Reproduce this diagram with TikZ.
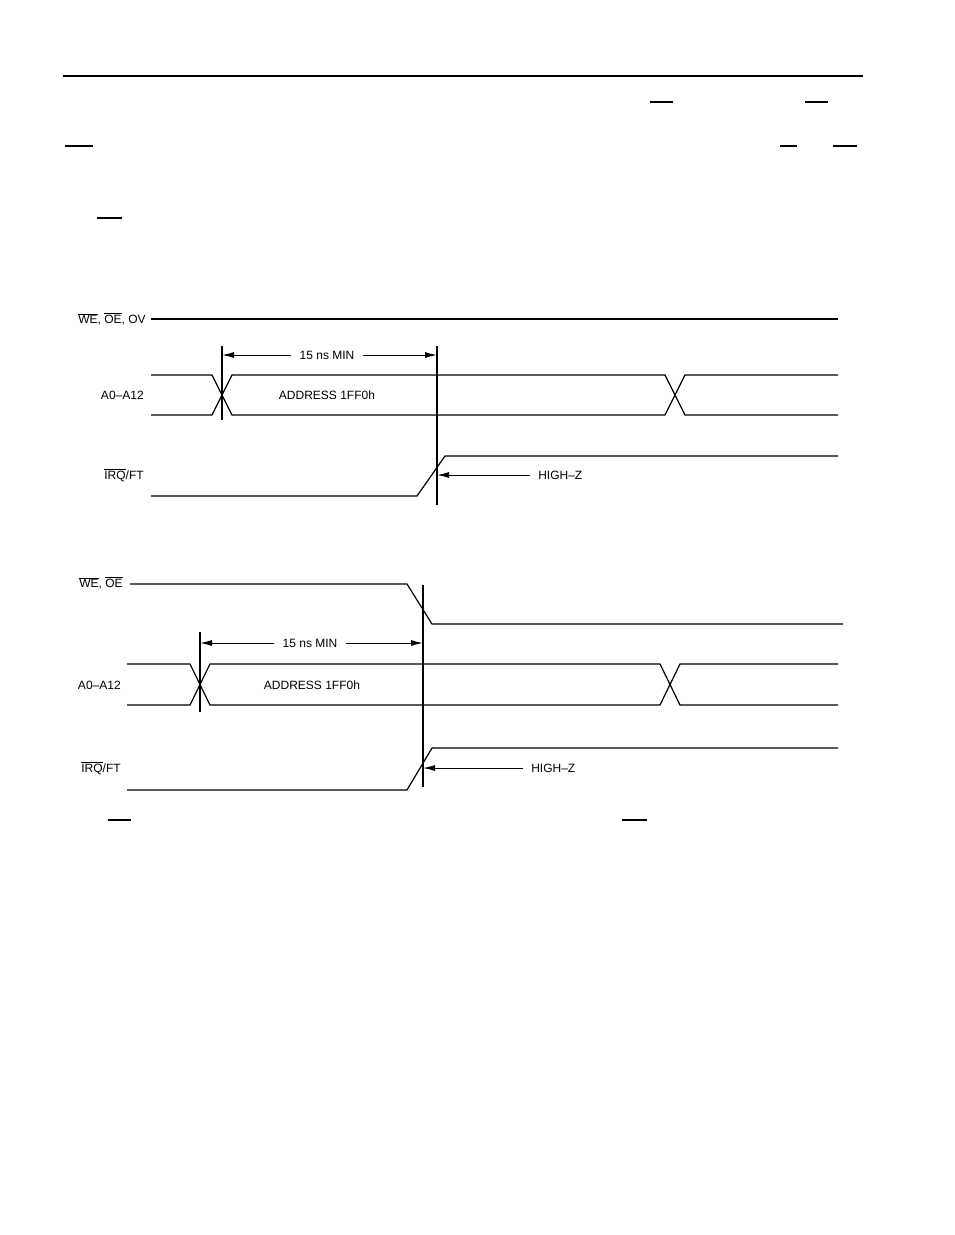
\documentclass[tikz,border=0pt]{standalone}
\usepackage{fontspec}
\setmainfont{Liberation Sans}
\usetikzlibrary{arrows.meta}
\usetikzlibrary{positioning}

\begin{document}
\begin{tikzpicture}[x=1pt,y=-1pt,semithick,
	font=\fontsize{12}{14}\selectfont,
	every node/.style={inner sep=1pt}]
	\tikzstyle{sig}=[line width=1.2pt]
	\tikzstyle{dim}=[-{Latex[length=12pt,width=6pt]},line width=1pt]
	\tikzstyle{lbl}=[anchor=east]
	\tikzstyle{gap}=[inner sep=8pt]

	\useasboundingbox (0,0) rectangle (954,1235);

	% page rule and left-over bars
	\draw[line width=1.2pt] (63,76) -- (863,76);
	\foreach \xa/\xb/\yy in {650/673/102, 805/828/102, 65/93/146, 780/797/146, 833/857/146, 97/122/218, 108/131/820, 622/647/820}
		\draw[line width=1.2pt] (\xa,\yy) -- (\xb,\yy);

	% ---- first diagram ----
	\node[lbl] (WEa) at (147,319) {$\overline{\mbox{WE}}$, $\overline{\mbox{OE}}$, OV};
	\node[lbl] (Aa) at (145,395) {A0–A12};
	\node[lbl] (IRQa) at (145,475) {$\overline{\mbox{IRQ}}$/FT};
	\node (ADDRa) at (327,395) {ADDRESS 1FF0h};
	\node[gap] (MINa) at (327,355) {15 ns MIN};
	\node[anchor=west] (HZa) at (537,475) {HIGH–Z};

	\draw[sig] (151,319) -- (838,319);
	\draw[sig] (151,375) -- (212,375) -- (232,415) -- (665,415) -- (685,375) -- (838,375);
	\draw[sig] (151,415) -- (212,415) -- (232,375) -- (665,375) -- (685,415) -- (838,415);
	\draw[sig] (151,496) -- (417,496) -- (445,456) -- (838,456);

	\coordinate (La1) at (222,346); \coordinate (La2) at (222,420);
	\coordinate (Ra1) at (437,346); \coordinate (Ra2) at (437,505);
	\draw[sig] (La1) -- (La2);
	\draw[sig] (Ra1) -- (Ra2);
	\draw[dim] (MINa.west) -- (La1 |- MINa.west);
	\draw[dim] (MINa.east) -- (Ra1 |- MINa.east);
	\draw[dim] (HZa.west) ++(-7,0) -- (Ra1 |- HZa.west);

	% ---- second diagram ----
	\node[lbl] (WEb) at (124,583) {$\overline{\mbox{WE}}$, $\overline{\mbox{OE}}$};
	\node[lbl] (Ab) at (122,685) {A0–A12};
	\node[lbl] (IRQb) at (122,768) {$\overline{\mbox{IRQ}}$/FT};
	\node (ADDRb) at (312,685) {ADDRESS 1FF0h};
	\node[gap] (MINb) at (310,643) {15 ns MIN};
	\node[anchor=west] (HZb) at (530,768) {HIGH–Z};

	\draw[sig] (130,584) -- (407,584) -- (432,624) -- (843,624);
	\draw[sig] (127,664) -- (190,664) -- (210,705) -- (660,705) -- (680,664) -- (838,664);
	\draw[sig] (127,705) -- (190,705) -- (210,664) -- (660,664) -- (680,705) -- (838,705);
	\draw[sig] (127,790) -- (407,790) -- (432,748) -- (838,748);

	\coordinate (Lb1) at (200,632); \coordinate (Lb2) at (200,712);
	\coordinate (Rb1) at (423,585); \coordinate (Rb2) at (423,787);
	\draw[sig] (Lb1) -- (Lb2);
	\draw[sig] (Rb1) -- (Rb2);
	\draw[dim] (MINb.west) -- (Lb1 |- MINb.west);
	\draw[dim] (MINb.east) -- (Rb1 |- MINb.east);
	\draw[dim] (HZb.west) ++(-7,0) -- (Rb1 |- HZb.west);
\end{tikzpicture}
\end{document}
